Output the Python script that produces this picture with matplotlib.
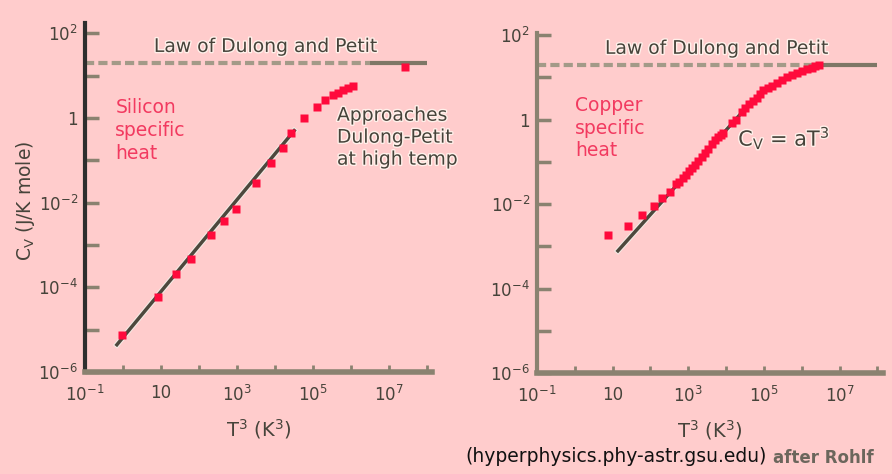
import numpy as np
import matplotlib
matplotlib.use("Agg")
import matplotlib.pyplot as plt
import matplotlib.patheffects as pe

plt.rcParams["font.family"] = ["DejaVu Sans"]
plt.rcParams["mathtext.fontset"] = "dejavusans"

# silicon specific heat (T^3 in K^3, Cv in J/K mole)
si_t3 = [0.93, 8.3, 24.5, 62, 209, 457, 933, 3160, 7760, 16200, 26300, 57500,
         1.26e5, 2.09e5, 3.39e5, 4.57e5, 6.17e5, 8.32e5, 1.12e6, 2.63e7]
si_cv = [7.6e-6, 5.9e-5, 2.1e-4, 4.7e-4, 1.74e-3, 3.7e-3, 7.1e-3, 2.9e-2, 8.5e-2,
         0.195, 0.44, 1.0, 1.78, 2.63, 3.47, 3.89, 4.57, 5.0, 5.6, 15.8]
si_fit_t3 = [0.69, 3.2e4]
si_fit_cv = [4.4e-6, 0.5]

# copper specific heat
cu_t3 = [7.4, 26, 59, 127, 199, 330, 475, 560, 741, 870, 1050, 1240, 1500, 1850,
         2250, 2780, 3400, 4190, 5100, 6250, 7200, 8490, 14700, 18000, 26000,
         32000, 40600, 50000, 64900, 80000, 97000, 1.25e5, 1.62e5, 2.2e5, 2.97e5,
         4.0e5, 5.47e5, 7.5e5, 1.0e6, 1.4e6, 1.85e6, 2.3e6, 2.88e6]
cu_cv = [1.86e-3, 3.1e-3, 5.4e-3, 9.1e-3, 1.38e-2, 1.98e-2, 2.95e-2, 0.034, 0.041,
         0.049, 0.060, 0.071, 0.085, 0.105, 0.13, 0.16, 0.20, 0.261, 0.32, 0.394,
         0.43, 0.474, 0.818, 1.0, 1.49, 1.85, 2.30, 2.7, 3.30, 4.1, 5.01, 5.7, 6.32,
         7.4, 8.63, 10.0, 11.3, 12.8, 14.1, 15.6, 16.9, 18.3, 19.5]
cu_fit_t3 = [13.8, 2.24e4]
cu_fit_cv = [7.8e-4, 1.26]

# Dulong-Petit limit
dp_cv = 20
dp_dash_end = 10 ** 6.5
dp_solid_end = 10 ** 8.0

ytick_labels = ["$10^{-6}$", "", "$10^{-4}$", "", "$10^{-2}$", "", "1", "", "$10^{2}$"]
xtick_labels = ["$10^{-1}$", "", "10", "", "$10^{3}$", "", "$10^{5}$", "", "$10^{7}$", ""]

BG = "#ffcccc"
RED = "#ff0a3c"
TXT = "#46433a"
AXC = "#8a8270"
halo = [pe.withStroke(linewidth=2.0, foreground="#fff0ea")]

W, H = 892, 474
fig = plt.figure(figsize=(W / 100, H / 100), dpi=100)
fig.patch.set_facecolor(BG)


def make_axes(x0, x1, y_bot, y_top, xmax, ymax, ycolor):
    ax = fig.add_axes([x0 / W, 1 - y_bot / H, (x1 - x0) / W, (y_bot - y_top) / H])
    ax.set_facecolor("none")
    ax.set_xscale("log")
    ax.set_yscale("log")
    ax.set_xlim(0.1, xmax)
    ax.set_ylim(1e-6, ymax)
    for s in ["top", "right"]:
        ax.spines[s].set_visible(False)
    ax.spines["left"].set_color(ycolor)
    ax.spines["left"].set_linewidth(3)
    ax.spines["bottom"].set_color(AXC)
    ax.spines["bottom"].set_linewidth(4)
    ax.set_yticks([10.0 ** k for k in range(-6, 3)])
    ax.set_yticklabels(ytick_labels)
    ax.set_xticks([10.0 ** k for k in range(-1, 9)])
    ax.set_xticklabels(xtick_labels)
    ax.minorticks_off()
    ax.tick_params(axis="y", direction="in", length=10, width=2.5, color=AXC,
                   labelsize=12, labelcolor=TXT, pad=5)
    ax.tick_params(axis="x", direction="in", length=5, width=2, color=AXC,
                   labelsize=12, labelcolor=TXT, pad=9)
    ax.set_xlabel("T$^{3}$ (K$^{3}$)", fontsize=14, color=TXT, labelpad=9)
    return ax


def dulong_petit(ax, label_x):
    ax.plot([0.1, dp_dash_end], [dp_cv, dp_cv], color="#a39a88", lw=3,
            ls=(0, (2.2, 1)), solid_capstyle="butt", zorder=2)
    ax.plot([dp_dash_end, dp_solid_end], [dp_cv, dp_cv], color="#7e7766", lw=3,
            solid_capstyle="butt", zorder=2)
    ax.text(label_x, 1.45 * dp_cv, "Law of Dulong and Petit", ha="center",
            va="bottom", fontsize=13.5, color=TXT, path_effects=halo)


# left panel: silicon
ax1 = make_axes(85, 432, 372, 23, 10 ** 8.13, 10 ** 2.24, "#2e2e2e")
ax1.plot(si_fit_t3, si_fit_cv, color="#4d483d", lw=2.5, zorder=3,
         path_effects=[pe.withStroke(linewidth=4, foreground="#f4ece6")])
ax1.plot(si_t3, si_cv, "s", color=RED, ms=6, mec="none", zorder=4)
dulong_petit(ax1, 10 ** 3.75)
ax1.text(10 ** -0.2, 0.5, "Silicon\nspecific\nheat", ha="left", va="center",
         fontsize=13.5, color="#f23a60", linespacing=1.25)
ax1.text(10 ** 5.63, 0.35, "Approaches\nDulong-Petit\nat high temp", ha="left",
         va="center", fontsize=13.5, color=TXT, linespacing=1.2, path_effects=halo)
ax1.set_ylabel(r"C$_\mathrm{V}$ (J/K mole)", fontsize=13.5, color=TXT)
ax1.yaxis.set_label_coords(-0.137, 0.49)

# right panel: copper
ax2 = make_axes(537, 883, 373, 33, 10 ** 8.15, 10 ** 2.05, AXC)
ax2.plot(cu_fit_t3, cu_fit_cv, color="#4d483d", lw=2.5, zorder=3,
         path_effects=[pe.withStroke(linewidth=4, foreground="#f4ece6")])
ax2.plot(cu_t3, cu_cv, "s", color=RED, ms=6, mec="none", zorder=4)
dulong_petit(ax2, 10 ** 3.75)
ax2.text(10 ** 0.0, 0.63, "Copper\nspecific\nheat", ha="left", va="center",
         fontsize=13.5, color="#f23a60", linespacing=1.25)
ax2.text(10 ** 4.32, 0.37, r"C$_\mathrm{V}$ = aT$^{3}$", ha="left", va="center",
         fontsize=15, color=TXT, path_effects=halo)

fig.text(465 / W, 1 - 457 / H, "(hyperphysics.phy-astr.gsu.edu)", ha="left",
         va="center", fontsize=13.5, color="#111111")
fig.text(773 / W, 1 - 458 / H, "after Rohlf", ha="left", va="center",
         fontsize=12, color="#6b665c", fontweight="bold")

fig.savefig("out.png", dpi=100, facecolor=BG)
